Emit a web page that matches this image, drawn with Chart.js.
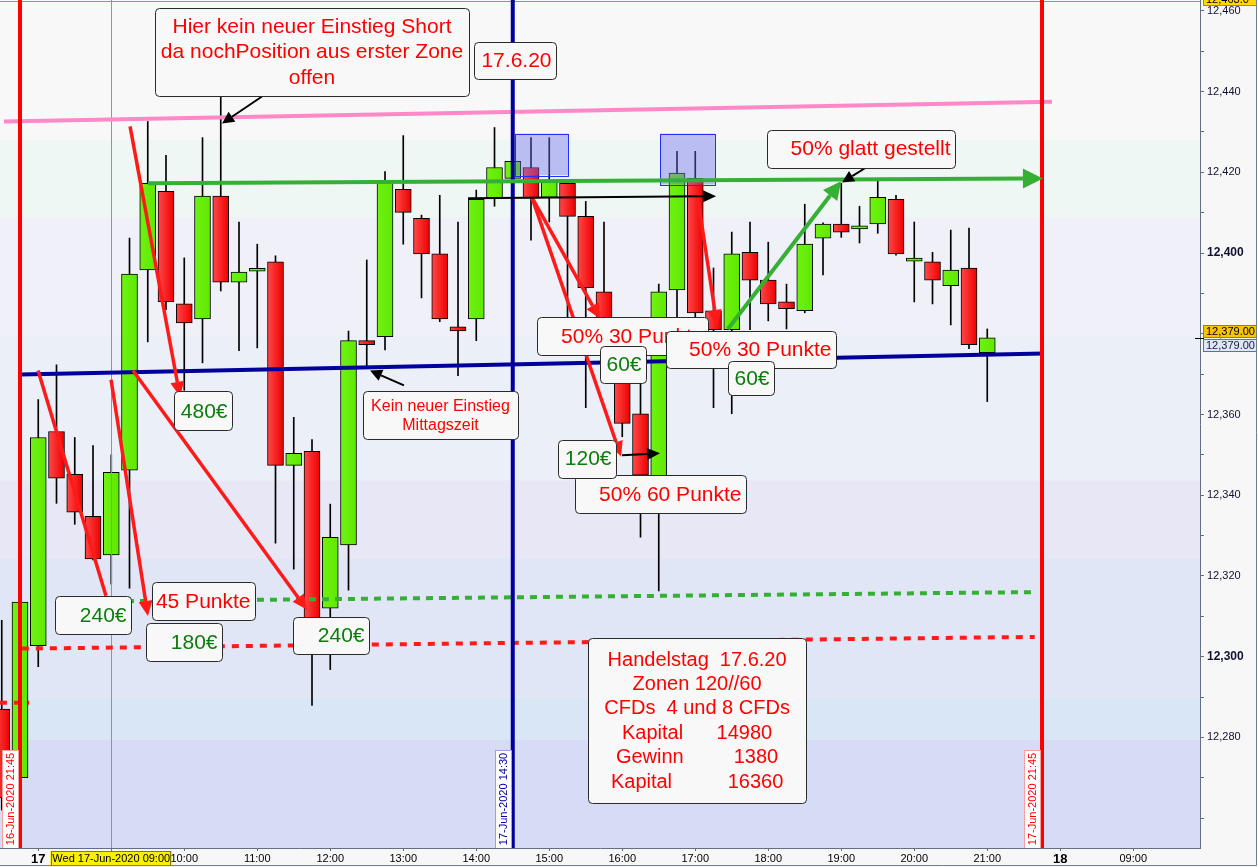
<!DOCTYPE html>
<html>
<head>
<meta charset="utf-8">
<script src="https://cdn.jsdelivr.net/npm/chart.js@4.4.1/dist/chart.umd.min.js"></script>
<style>
  html, body { margin: 0; padding: 0; background: #f7f7f7; }
  canvas { display: block; }
</style>
</head>
<body>
<canvas id="candles" width="1258" height="867"></canvas>
<script>
// 15-minute candles, slot 0 = 16-Jun 21:30, slot 2 = 17-Jun 08:00
var times = ['16.06. 21:30', '16.06. 21:45',
  '08:00', '08:15', '08:30', '08:45', '09:00', '09:15', '09:30', '09:45',
  '10:00', '10:15', '10:30', '10:45', '11:00', '11:15', '11:30', '11:45',
  '12:00', '12:15', '12:30', '12:45', '13:00', '13:15', '13:30', '13:45',
  '14:00', '14:15', '14:30', '14:45', '15:00', '15:15', '15:30', '15:45',
  '16:00', '16:15', '16:30', '16:45', '17:00', '17:15', '17:30', '17:45',
  '18:00', '18:15', '18:30', '18:45', '19:00', '19:15', '19:30', '19:45',
  '20:00', '20:15', '20:30', '20:45', '21:00'];

var open = [12287, 12270, 12302.7, 12355.8, 12345.2, 12334.8, 12325.2, 12346.2, 12395.8, 12415.3,
  12387.4, 12383.7, 12414.1, 12392.8, 12395.5, 12397.8, 12347.4, 12350.9, 12312, 12327.7,
  12378.3, 12379.3, 12415.8, 12408.6, 12399.8, 12381.7, 12383.7, 12413.6, 12418.5, 12421.2,
  12413.8, 12417.3, 12409.1, 12390.4, 12376, 12360.2, 12342, 12390.9, 12418.5, 12385.7,
  12381, 12400.2, 12393.3, 12387.9, 12385.7, 12403.7, 12407.2, 12406, 12407.2, 12413.3,
  12398, 12397.8, 12391.9, 12396.3, 12375.3];
var high = [12309, 12314, 12363.7, 12372.3, 12354.3, 12352.3, 12350, 12403.7, 12432.6, 12424.2,
  12398.8, 12428.6, 12441, 12407.7, 12402.2, 12399.3, 12359.3, 12353.8, 12337.8, 12380.7,
  12398.3, 12420.2, 12429.1, 12409.4, 12414.3, 12407.7, 12415.6, 12431.1, 12423, 12428.6,
  12428.6, 12418, 12412.8, 12407.7, 12378, 12369, 12392.3, 12425.2, 12425.2, 12396.3,
  12405.2, 12407.7, 12402.7, 12392.3, 12412.1, 12407.5, 12417.3, 12411.6, 12417.8, 12414.3,
  12407.7, 12400.2, 12405.7, 12406.2, 12381.2];
var low = [12262, 12269, 12297.5, 12338, 12332.8, 12324, 12318, 12317, 12378, 12386,
  12366, 12372.8, 12390.6, 12375.8, 12376.5, 12328.1, 12321.7, 12287.9, 12296.8, 12316.5,
  12371.6, 12376, 12402.2, 12388.9, 12383, 12369.6, 12378.3, 12411.6, 12418, 12403.2,
  12407.7, 12383, 12361.7, 12372, 12354.5, 12329.6, 12316.3, 12384, 12383, 12361.7,
  12360.2, 12381, 12383.2, 12381.2, 12385.2, 12394.6, 12403.9, 12402.5, 12404.9, 12399.5,
  12387.9, 12387.4, 12382.2, 12376.3, 12363.2];
var close = [12265, 12313.5, 12354.3, 12344.2, 12335.8, 12324.2, 12345.7, 12394.8, 12417.3, 12387.9,
  12382.7, 12414.1, 12392.8, 12395.3, 12396, 12347.4, 12350.4, 12307, 12329.6, 12378.3,
  12377.3, 12417.5, 12410.1, 12399.8, 12383.7, 12380.7, 12413.3, 12421.2, 12422.7, 12413.6,
  12418, 12409.1, 12391.4, 12376, 12357.8, 12345, 12390.4, 12419.8, 12385.2, 12381,
  12399.8, 12393.3, 12387.4, 12386.2, 12402.2, 12407.2, 12405.2, 12406.5, 12413.8, 12399.8,
  12398.3, 12393.3, 12395.8, 12377.3, 12379];

// time axis
var tickSlots = [2, 6, 10, 14, 18, 22, 26, 30, 34, 38, 42, 46, 50, 54, 58, 62];
var tickLabels = ['17', 'Wed 17-Jun-2020 09:00', '10:00', '11:00', '12:00', '13:00', '14:00', '15:00',
  '16:00', '17:00', '18:00', '19:00', '20:00', '21:00', '18', '09:00'];

var lastPrice = 12379;
var chartHigh = 12463.0;

// drawn studies, in slot / price units
var levels = [
  { from: [0.12, 12432.6], to: [57.55, 12437.5], color: '#ff88c8', width: 4 },
  { from: [1, 12369.9], to: [57.1, 12375.1], color: '#00009c', width: 4 },
  { from: [3.3, 12313.6], to: [56.6, 12316.0], color: '#35b035', width: 4, dash: [7, 6] },
  { from: [1.1, 12302.0], to: [56.6, 12304.9], color: '#ff1a1a', width: 4, dash: [7, 7] },
  { from: [-0.1, 12288.6], to: [1.5, 12288.6], color: '#ff1a1a', width: 4, dash: [7, 7] }
];
var markers = [
  { at: 1, color: '#ff0000', label: '16-Jun-2020 21:45', border: '#f4a0a0' },
  { at: 28, color: '#0000a0', label: '17-Jun-2020 14:30', border: '#a0a0e0' },
  { at: 57, color: '#ff0000', label: '17-Jun-2020 21:45', border: '#f4a0a0' }
];
var zones = [
  { from: [28.12, 12429.6], to: [31.03, 12419.3] },
  { from: [36.07, 12429.6], to: [39.08, 12417.0] }
];
var arrows = [
  { from: [8.01, 12417.3], to: [57.05, 12418.5], color: '#35b035', width: 4, head: 20, half: 10 },
  { from: [1.99, 12370.9], to: [5.71, 12315.1], color: '#ff1a1a', width: 3.5, head: 0 },
  { from: [5.99, 12368.6], to: [8.01, 12310.1], color: '#ff1a1a', width: 3.5, head: 15, half: 7 },
  { from: [7.03, 12431.4], to: [9.77, 12364.4], color: '#ff1a1a', width: 3.5, head: 15, half: 7 },
  { from: [7.19, 12370.9], to: [16.73, 12311.6], color: '#ff1a1a', width: 3.5, head: 15, half: 7 },
  { from: [29.05, 12413.8], to: [32.78, 12383.7], color: '#ff1a1a', width: 3.5, head: 15, half: 7 },
  { from: [29.05, 12413.8], to: [33.93, 12349.6], color: '#ff1a1a', width: 3.5, head: 15, half: 7 },
  { from: [38.1, 12414.8], to: [39.19, 12382.2], color: '#ff1a1a', width: 3.5, head: 15, half: 7 },
  { from: [39.79, 12381.2], to: [45.99, 12417.8], color: '#35b035', width: 4, head: 18, half: 9 },
  { from: [25.55, 12413.6], to: [39.14, 12414.1], color: '#000000', width: 2, head: 13, half: 6 },
  { from: [33.99, 12349.9], to: [36.07, 12350.4], color: '#000000', width: 2, head: 13, half: 6 },
  { from: [14.26, 12438.8], to: [12.07, 12432.1], color: '#000000', width: 2, head: 12, half: 6 },
  { from: [22.04, 12367.2], to: [20.18, 12370.9], color: '#000000', width: 2, head: 12, half: 6 },
  { from: [47.36, 12421.2], to: [46.04, 12417.5], color: '#000000', width: 2, head: 12, half: 6 }
];
var RED = '#ff0000', GREEN = '#0c7c0c';
var notes = [
  { at: [17.0, 12449.9], w: 314, h: 88, size: 21, color: RED, align: 'center',
    text: ['Hier kein neuer Einstieg Short', 'da nochPosition aus erster Zone', 'offen'] },
  { at: [28.12, 12447.8], w: 82, h: 37, size: 21, color: RED, text: ['17.6.20'] },
  { at: [11.03, 12360.9], w: 58, h: 39, size: 21, color: GREEN, text: ['480€'] },
  { at: [24.04, 12359.8], w: 155, h: 48, size: 16, color: RED, align: 'center',
    text: ['Kein neuer Einstieg', 'Mittagszeit'] },
  { at: [47.08, 12425.9], w: 188, h: 38, size: 21, color: RED, text: ['50% glatt gestellt'] },
  { at: [34.01, 12379.5], w: 171, h: 38, size: 21, color: RED, text: ['50% 30 Punkte'] },
  { at: [34.04, 12372.5], w: 46, h: 37, size: 21, color: GREEN, text: ['60€'] },
  { at: [41.05, 12376.2], w: 170, h: 37, size: 21, color: RED, text: ['50% 30 Punkte'] },
  { at: [41.05, 12369.1], w: 46, h: 34, size: 21, color: GREEN, text: ['60€'] },
  { at: [36.1, 12340.2], w: 171, h: 38, size: 21, color: RED, text: ['50% 60 Punkte'] },
  { at: [32.07, 12349.1], w: 58, h: 38, size: 21, color: GREEN, text: ['120€'] },
  { at: [5.0, 12310.4], w: 76, h: 38, size: 21, color: GREEN, text: ['240€'] },
  { at: [11.05, 12313.8], w: 103, h: 38, size: 21, color: RED, text: ['45 Punkte'] },
  { at: [9.99, 12303.7], w: 76, h: 38, size: 21, color: GREEN, text: ['180€'] },
  { at: [18.04, 12305.3], w: 76, h: 37, size: 21, color: GREEN, text: ['240€'] },
  { at: [38.1, 12284.3], w: 218, h: 165, size: 20, color: RED, align: 'center',
    text: ['Handelstag  17.6.20', 'Zonen 120//60', 'CFDs  4 und 8 CFDs',
      'Kapital      14980', 'Gewinn         1380', 'Kapital          16360'] }
];
// background shading, price bands (top price, colour)
var bands = [[12463, '#f8f8f8'], [12428.1, '#eff7f5'], [12408.9, '#f0f0f9'], [12379.5, '#eaeff8'],
  [12343.7, '#e7e7f5'], [12324.4, '#e0e6f5'], [12289.9, '#d9e6f5'], [12279.5, '#d6dcf5']];

var FONT = '"Liberation Sans", Arial, sans-serif';
var slots = times.map(function (t, i) { return i; });

function drawArrow(ctx, x1, y1, x2, y2, a) {
  var ang = Math.atan2(y2 - y1, x2 - x1);
  var bx = x2 - (a.head || 0) * Math.cos(ang), by = y2 - (a.head || 0) * Math.sin(ang);
  ctx.save();
  ctx.strokeStyle = a.color; ctx.lineWidth = a.width;
  ctx.beginPath(); ctx.moveTo(x1, y1); ctx.lineTo(bx, by); ctx.stroke();
  if (a.head) {
    ctx.fillStyle = a.color;
    ctx.beginPath();
    ctx.moveTo(x2, y2);
    ctx.lineTo(bx + a.half * Math.sin(ang), by - a.half * Math.cos(ang));
    ctx.lineTo(bx - a.half * Math.sin(ang), by + a.half * Math.cos(ang));
    ctx.closePath(); ctx.fill();
  }
  ctx.restore();
}

function roundBox(ctx, x, y, w, h, r) {
  ctx.beginPath();
  ctx.moveTo(x + r, y);
  ctx.lineTo(x + w - r, y); ctx.quadraticCurveTo(x + w, y, x + w, y + r);
  ctx.lineTo(x + w, y + h - r); ctx.quadraticCurveTo(x + w, y + h, x + w - r, y + h);
  ctx.lineTo(x + r, y + h); ctx.quadraticCurveTo(x, y + h, x, y + h - r);
  ctx.lineTo(x, y + r); ctx.quadraticCurveTo(x, y, x + r, y);
  ctx.closePath();
}

// body fill: shaded from left to right like the original candles
function bodyFill(c) {
  var i = c.dataIndex;
  var up = close[i] >= open[i];
  var xs = c.chart.scales && c.chart.scales.x;
  var x = xs ? xs.getPixelForValue(i) : NaN;
  if (!isFinite(x)) return up ? '#66ee0a' : '#f81c1c';
  var g = c.chart.ctx.createLinearGradient(x - 8, 0, x + 8, 0);
  if (up) { g.addColorStop(0, '#70f214'); g.addColorStop(1, '#5ee800'); }
  else { g.addColorStop(0, '#ff4848'); g.addColorStop(1, '#ee0000'); }
  return g;
}

var studies = {
  id: 'studies',
  beforeDraw: function (chart) {
    var ctx = chart.ctx, a = chart.chartArea, y = chart.scales.y;
    ctx.save();
    ctx.fillStyle = '#f7f7f7';
    ctx.fillRect(0, 0, chart.width, chart.height);
    bands.forEach(function (b, k) {
      var top = Math.max(a.top, y.getPixelForValue(b[0]));
      var bot = k + 1 < bands.length ? y.getPixelForValue(bands[k + 1][0]) : a.bottom;
      ctx.fillStyle = b[1];
      ctx.fillRect(a.left, top, a.right - a.left, bot - top);
    });
    ctx.restore();
  },
  afterDatasetsDraw: function (chart) {
    var ctx = chart.ctx, a = chart.chartArea, xs = chart.scales.x, ys = chart.scales.y;
    var px = function (v) { return xs.getPixelForValue(v); };
    var py = function (v) { return ys.getPixelForValue(v); };
    ctx.save();
    ctx.beginPath(); ctx.rect(a.left, a.top, a.right - a.left, a.bottom - a.top); ctx.clip();

    // chart high and session start
    ctx.strokeStyle = '#7890f0'; ctx.lineWidth = 1;
    ctx.beginPath(); ctx.moveTo(a.left, Math.round(py(chartHigh - 0.5)) + 0.5);
    ctx.lineTo(a.right, Math.round(py(chartHigh - 0.5)) + 0.5); ctx.stroke();
    ctx.beginPath(); ctx.moveTo(Math.round(px(6)) + 0.5, a.top); ctx.lineTo(Math.round(px(6)) + 0.5, a.bottom); ctx.stroke();

    zones.forEach(function (z) {
      var x1 = px(z.from[0]), x2 = px(z.to[0]), y1 = py(z.from[1]), y2 = py(z.to[1]);
      ctx.fillStyle = 'rgba(110,110,235,0.42)';
      ctx.fillRect(x1, y1, x2 - x1, y2 - y1);
      ctx.strokeStyle = '#2030ff'; ctx.lineWidth = 1;
      ctx.strokeRect(Math.round(x1) + 0.5, Math.round(y1) + 0.5, Math.round(x2 - x1), Math.round(y2 - y1));
    });

    levels.forEach(function (l) {
      ctx.strokeStyle = l.color; ctx.lineWidth = l.width;
      ctx.setLineDash(l.dash || []);
      ctx.beginPath(); ctx.moveTo(px(l.from[0]), py(l.from[1])); ctx.lineTo(px(l.to[0]), py(l.to[1])); ctx.stroke();
    });
    ctx.setLineDash([]);

    markers.forEach(function (m) {
      ctx.strokeStyle = m.color; ctx.lineWidth = 4;
      ctx.beginPath(); ctx.moveTo(px(m.at), a.top); ctx.lineTo(px(m.at), a.bottom); ctx.stroke();
    });

    arrows.forEach(function (ar) {
      drawArrow(ctx, px(ar.from[0]), py(ar.from[1]), px(ar.to[0]), py(ar.to[1]), ar);
    });

    notes.forEach(function (n) {
      var cx = px(n.at[0]), cy = py(n.at[1]);
      var x = Math.round(cx - n.w / 2) + 0.5, y = Math.round(cy - n.h / 2) + 0.5;
      roundBox(ctx, x, y, n.w, n.h, 4);
      ctx.fillStyle = '#f8f8f8'; ctx.fill();
      ctx.strokeStyle = '#2a2a2a'; ctx.lineWidth = 1; ctx.stroke();
      ctx.fillStyle = n.color;
      ctx.font = n.size + 'px ' + FONT;
      ctx.textBaseline = 'middle';
      var lh = n.size * 1.22;
      n.text.forEach(function (t, k) {
        var ty = cy + (k - (n.text.length - 1) / 2) * lh + 1;
        if (n.align === 'center') { ctx.textAlign = 'center'; ctx.fillText(t, cx, ty); }
        else { ctx.textAlign = 'right'; ctx.fillText(t, x + n.w - 5, ty); }
      });
    });

    markers.forEach(function (m) {
      var right = Math.round(px(m.at)) - 2, w = 16, h = 98;
      ctx.fillStyle = '#ffffff';
      ctx.fillRect(right - w, a.bottom - h, w, h);
      ctx.strokeStyle = m.border; ctx.lineWidth = 1;
      ctx.strokeRect(right - w + 0.5, a.bottom - h + 0.5, w, h);
      ctx.save();
      ctx.translate(right - w / 2 + 1, a.bottom - h / 2);
      ctx.rotate(-Math.PI / 2);
      ctx.fillStyle = m.color; ctx.font = '11px ' + FONT;
      ctx.textAlign = 'center'; ctx.textBaseline = 'middle';
      ctx.fillText(m.label, 0, 0);
      ctx.restore();
    });
    ctx.restore();
  },
  afterDraw: function (chart) {
    var ctx = chart.ctx, a = chart.chartArea, ys = chart.scales.y, xs = chart.scales.x;
    ctx.save();
    ctx.font = '11px ' + FONT; ctx.textBaseline = 'middle'; ctx.textAlign = 'left';
    // price tags on the right axis
    var tag = function (yTop, h, bg, border, txt, color) {
      ctx.fillStyle = bg; ctx.fillRect(a.right + 3, yTop, 54, h);
      ctx.strokeStyle = border; ctx.lineWidth = 1;
      ctx.strokeRect(a.right + 3.5, yTop + 0.5, 53, h - 1);
      ctx.fillStyle = color; ctx.fillText(txt, a.right + 6, yTop + h / 2 + 0.5);
    };
    var yh = Math.round(ys.getPixelForValue(chartHigh));
    tag(yh - 7, 14, '#ffd800', '#b09000', '12,463.0', '#000');
    var yl = Math.round(ys.getPixelForValue(lastPrice));
    tag(yl - 13, 13, '#f6c400', '#a08000', '12,379.00', '#000');
    tag(yl + 1, 13, '#dfe6f6', '#5070c0', '12,379.00', '#202040');
    ctx.strokeStyle = '#000'; ctx.beginPath();
    ctx.moveTo(a.right - 5, yl + 0.5); ctx.lineTo(a.right + 4, yl + 0.5); ctx.stroke();
    // border around the highlighted session label
    var x9 = xs.getPixelForValue(6);
    ctx.strokeStyle = '#808000';
    ctx.strokeRect(Math.round(x9 - 60) + 0.5, a.bottom + 3.5, 119, 14);
    // outer frame
    ctx.strokeStyle = '#708090';
    ctx.beginPath(); ctx.moveTo(chart.width - 1.5, 0); ctx.lineTo(chart.width - 1.5, chart.height - 1.5);
    ctx.lineTo(0, chart.height - 1.5); ctx.stroke();
    ctx.restore();
  }
};

var ctx = document.getElementById('candles').getContext('2d');
new Chart(ctx, {
  type: 'bar',
  data: {
    datasets: [{
      label: 'Body',
      data: slots.map(function (i) { return { x: i, y: [open[i], close[i]] }; }),
      backgroundColor: bodyFill,
      borderColor: '#000',
      borderWidth: 1,
      borderSkipped: false,
      barThickness: 16,
      minBarLength: 3,
      grouped: false,
      order: 0
    }, {
      label: 'Wick',
      data: slots.map(function (i) { return { x: i, y: [low[i], high[i]] }; }),
      backgroundColor: '#000',
      borderWidth: 0,
      barThickness: 1,
      grouped: false,
      order: 1
    }]
  },
  options: {
    responsive: false,
    animation: false,
    layout: { padding: 0 },
    plugins: { legend: { display: false }, tooltip: { enabled: false } },
    scales: {
      x: {
        type: 'linear',
        min: -0.096,
        max: 65.657,
        offset: false,
        grid: { drawOnChartArea: false, offset: false, tickLength: 3, color: '#607080' },
        border: { color: '#607080' },
        afterBuildTicks: function (s) { s.ticks = tickSlots.map(function (v) { return { value: v }; }); },
        afterFit: function (s) { s.height = 19; s.paddingLeft = 0; s.paddingRight = 0; },
        ticks: {
          autoSkip: false,
          maxRotation: 0,
          padding: 1,
          color: '#000',
          callback: function (v) { var k = tickSlots.indexOf(v); return k < 0 ? '' : tickLabels[k]; },
          font: function (c) {
            var v = c.tick && c.tick.value;
            return (v === 2 || v === 58) ? { family: FONT, size: 13, weight: 'bold' } : { family: FONT, size: 11 };
          },
          showLabelBackdrop: function (c) { return c.tick && c.tick.value === 6; },
          backdropColor: '#f8f000',
          backdropPadding: { top: 1, bottom: 1, left: 2, right: 2 }
        }
      },
      y: {
        position: 'right',
        min: 12252.6,
        max: 12462.7,
        beginAtZero: false,
        grid: { drawOnChartArea: false, tickLength: 4, color: '#607080' },
        border: { color: '#607080' },
        afterFit: function (s) { s.width = 58; s.paddingTop = 0; s.paddingBottom = 0; },
        ticks: {
          stepSize: 10,
          includeBounds: false,
          autoSkip: false,
          padding: 3,
          color: '#101030',
          callback: function (v) {
            var r = Math.round(v);
            return (r % 20 === 0 && r >= 12270) ? r.toLocaleString('en-US') : '';
          },
          font: function (c) {
            var v = c.tick && Math.round(c.tick.value);
            return v % 100 === 0 ? { family: FONT, size: 12, weight: 'bold' } : { family: FONT, size: 11 };
          }
        }
      }
    }
  },
  plugins: [studies]
});
</script>
</body>
</html>
